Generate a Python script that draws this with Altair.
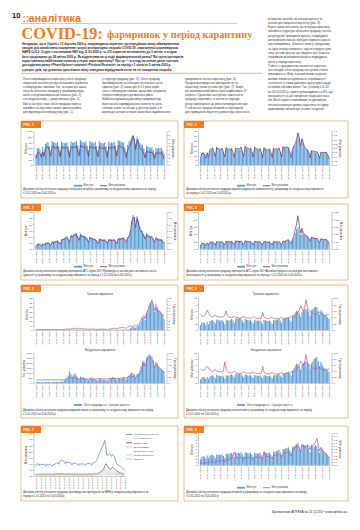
import altair as alt
import pandas as pd

W, H = 344, 514
ORANGE = "#f47b20"
FRAME = "#f3a46b"
BAR = "#5b9bd5"
PURPLE = "#7a2a5e"
PINK = "#c4508a"
INK = "#333333"
SANS = "Liberation Sans"
SERIF = "Liberation Serif"

# ---------------- categories ----------------
DATES = [d.strftime("%d.%m.%Y") for d in pd.date_range("2020-01-01", "2020-04-05", freq="D")]
XTICKS = DATES[::5]

# ---------------- data ----------------
F1_UAH = [170, 290, 310, 280, 210, 320, 230,
          370, 395, 405, 335, 255, 425, 400,
          395, 380, 410, 330, 250, 420, 390,
          385, 390, 400, 325, 245, 415, 395,
          400, 395, 425, 350, 265, 440, 410,
          405, 390, 415, 340, 255, 430, 400,
          395, 385, 405, 335, 250, 420, 390,
          390, 380, 400, 330, 245, 415, 385,
          395, 390, 410, 345, 260, 440, 420,
          410, 400, 395, 310, 235, 355, 415,
          440, 495, 525, 470, 375, 505, 455,
          395, 365, 355, 295, 225, 335, 320,
          315, 305, 310, 260, 200, 300, 290,
          300, 290, 305, 255, 195]
F1_PCK = [1.7, 3.1, 3.4, 3.0, 2.0, 3.5, 2.3,
          4.4, 4.6, 4.8, 3.6, 2.3, 5.1, 4.7,
          4.6, 4.4, 4.9, 3.5, 2.2, 5.0, 4.5,
          4.5, 4.5, 4.7, 3.4, 2.1, 4.9, 4.6,
          4.7, 4.6, 5.1, 3.7, 2.4, 5.3, 4.8,
          4.8, 4.5, 4.9, 3.6, 2.3, 5.1, 4.6,
          4.6, 4.4, 4.8, 3.5, 2.2, 4.9, 4.5,
          4.5, 4.3, 4.7, 3.4, 2.1, 4.8, 4.4,
          4.6, 4.5, 4.9, 3.7, 2.3, 5.2, 4.9,
          4.8, 4.6, 4.5, 3.2, 2.0, 3.9, 4.8,
          5.3, 6.3, 7.7, 6.4, 4.1, 6.7, 5.6,
          4.5, 4.0, 3.9, 3.0, 1.9, 3.6, 3.4,
          3.4, 3.3, 3.4, 2.7, 1.7, 3.2, 3.1,
          3.2, 3.1, 3.3, 2.6, 1.6]

F2_UAH = [7, 12, 13, 11, 8, 13, 9,
          15, 16, 17, 13, 10, 18, 17,
          16, 15.5, 17, 13, 10, 17.5, 16,
          16, 16, 16.5, 12.5, 9.5, 17, 16,
          16.5, 16, 18, 14, 10.5, 18.5, 17,
          17, 16, 17, 13.5, 10, 18, 16.5,
          16, 15.5, 16.5, 13, 9.8, 17.5, 16,
          15.5, 15, 16, 12.5, 9.5, 17, 16,
          16, 16, 17, 13.5, 10.2, 18.5, 17.5,
          18, 18, 17.5, 13, 9.5, 15, 19,
          21, 25, 31.5, 27, 19, 26, 22,
          18, 16, 15.5, 12.5, 9, 14.5, 14,
          13.5, 13, 13.5, 11, 8, 13, 12.5,
          13, 12.5, 13, 10.5, 7.5]
F2_PCK = [0.8, 1.3, 1.4, 1.2, 0.8, 1.4, 1.0,
          1.8, 1.9, 2.0, 1.5, 1.0, 2.1, 1.9,
          1.9, 1.8, 2.0, 1.5, 0.95, 2.05, 1.85,
          1.85, 1.85, 1.95, 1.45, 0.9, 2.0, 1.9,
          1.95, 1.9, 2.1, 1.6, 1.0, 2.2, 2.0,
          2.0, 1.85, 2.0, 1.55, 0.95, 2.1, 1.9,
          1.9, 1.8, 1.95, 1.5, 0.92, 2.05, 1.85,
          1.85, 1.75, 1.9, 1.45, 0.9, 2.0, 1.85,
          1.9, 1.85, 2.0, 1.55, 0.98, 2.15, 2.05,
          2.1, 2.1, 2.05, 1.5, 0.9, 1.8, 2.25,
          2.5, 3.0, 3.8, 3.2, 2.2, 3.1, 2.6,
          2.1, 1.85, 1.8, 1.45, 0.85, 1.7, 1.65,
          1.6, 1.55, 1.6, 1.3, 0.8, 1.5, 1.45,
          1.5, 1.45, 1.5, 1.2, 0.75]

F3_UAH = [0.25, 0.40, 0.45, 0.42, 0.30, 0.45, 0.35,
          0.50, 0.52, 0.55, 0.45, 0.35, 0.60, 0.58,
          0.62, 0.65, 0.70, 0.58, 0.45, 0.80, 0.82,
          0.90, 0.95, 1.05, 0.85, 0.65, 1.15, 1.10,
          1.20, 1.25, 1.30, 1.05, 0.80, 1.25, 1.15,
          1.10, 1.05, 1.00, 0.85, 0.65, 0.98, 0.92,
          0.88, 0.85, 0.84, 0.70, 0.55, 0.85, 0.82,
          0.80, 0.78, 0.80, 0.66, 0.52, 0.82, 0.80,
          0.80, 0.78, 0.82, 0.70, 0.55, 0.88, 0.86,
          0.90, 0.92, 0.95, 0.80, 0.62, 0.95, 1.10,
          1.50, 2.30, 2.75, 2.60, 1.90, 2.70, 2.30,
          1.80, 1.55, 1.45, 1.20, 0.90, 1.30, 1.20,
          1.10, 1.05, 1.05, 0.85, 0.65, 0.95, 0.90,
          0.85, 0.80, 0.82, 0.68, 0.52]
F3_PCK = [0.04, 0.07, 0.08, 0.07, 0.05, 0.08, 0.06,
          0.09, 0.09, 0.10, 0.08, 0.06, 0.11, 0.10,
          0.11, 0.12, 0.13, 0.10, 0.08, 0.14, 0.15,
          0.16, 0.17, 0.19, 0.15, 0.11, 0.21, 0.20,
          0.22, 0.23, 0.24, 0.19, 0.14, 0.23, 0.21,
          0.20, 0.19, 0.18, 0.15, 0.11, 0.18, 0.17,
          0.16, 0.15, 0.15, 0.12, 0.09, 0.15, 0.15,
          0.14, 0.14, 0.14, 0.12, 0.09, 0.15, 0.14,
          0.14, 0.14, 0.15, 0.12, 0.09, 0.16, 0.16,
          0.16, 0.17, 0.17, 0.14, 0.11, 0.17, 0.20,
          0.28, 0.43, 0.52, 0.49, 0.35, 0.50, 0.42,
          0.33, 0.28, 0.26, 0.21, 0.16, 0.23, 0.21,
          0.20, 0.19, 0.19, 0.15, 0.11, 0.17, 0.16,
          0.15, 0.14, 0.15, 0.12, 0.09]

F4_UAH = [0.25, 0.38, 0.40, 0.36, 0.28, 0.42, 0.32,
          0.45, 0.47, 0.48, 0.40, 0.30, 0.50, 0.48,
          0.48, 0.47, 0.50, 0.41, 0.31, 0.52, 0.50,
          0.50, 0.49, 0.52, 0.42, 0.32, 0.55, 0.52,
          0.52, 0.51, 0.54, 0.44, 0.33, 0.56, 0.53,
          0.51, 0.49, 0.51, 0.42, 0.32, 0.53, 0.50,
          0.49, 0.48, 0.50, 0.41, 0.31, 0.52, 0.49,
          0.48, 0.47, 0.49, 0.40, 0.30, 0.51, 0.49,
          0.49, 0.48, 0.51, 0.42, 0.32, 0.54, 0.52,
          0.55, 0.58, 0.60, 0.48, 0.36, 0.60, 0.75,
          1.05, 1.35, 1.50, 1.30, 0.95, 1.25, 1.00,
          0.95, 0.90, 0.88, 0.72, 0.55, 0.80, 0.78,
          0.75, 0.72, 0.74, 0.60, 0.45, 0.70, 0.68,
          0.66, 0.64, 0.66, 0.54, 0.40]
F4_PCK = [0.020, 0.035, 0.040, 0.035, 0.025, 0.040, 0.030,
          0.045, 0.046, 0.048, 0.038, 0.027, 0.050, 0.047,
          0.047, 0.046, 0.050, 0.039, 0.028, 0.052, 0.049,
          0.049, 0.048, 0.051, 0.040, 0.029, 0.054, 0.051,
          0.051, 0.050, 0.053, 0.042, 0.030, 0.055, 0.052,
          0.050, 0.048, 0.050, 0.040, 0.029, 0.052, 0.049,
          0.048, 0.047, 0.049, 0.039, 0.028, 0.051, 0.048,
          0.047, 0.046, 0.048, 0.038, 0.027, 0.050, 0.048,
          0.048, 0.047, 0.050, 0.040, 0.029, 0.053, 0.051,
          0.055, 0.060, 0.063, 0.050, 0.036, 0.065, 0.090,
          0.130, 0.170, 0.225, 0.160, 0.110, 0.140, 0.110,
          0.095, 0.090, 0.087, 0.070, 0.052, 0.080, 0.077,
          0.073, 0.070, 0.072, 0.058, 0.043, 0.068, 0.066,
          0.064, 0.062, 0.064, 0.052, 0.038]

F5_UAH = [0.05, 0.06, 0.06, 0.06, 0.05, 0.06, 0.05,
          0.06, 0.06, 0.07, 0.06, 0.05, 0.07, 0.06,
          0.07, 0.06, 0.07, 0.06, 0.05, 0.07, 0.07,
          0.10, 0.15, 0.20, 0.22, 0.25, 0.30, 0.35,
          0.40, 0.42, 0.38, 0.30, 0.22, 0.30, 0.28,
          0.25, 0.24, 0.22, 0.18, 0.14, 0.20, 0.20,
          0.18, 0.17, 0.17, 0.14, 0.11, 0.17, 0.17,
          0.16, 0.15, 0.16, 0.13, 0.10, 0.18, 0.20,
          0.25, 0.30, 0.32, 0.28, 0.20, 0.33, 0.35,
          0.40, 0.45, 0.50, 0.45, 0.35, 0.60, 0.90,
          2.0, 2.8, 3.5, 3.0, 2.2, 3.8, 4.5,
          6.0, 9.0, 13.0, 14.0, 11.0, 18.0, 22.0,
          26.0, 30.0, 33.0, 28.0, 20.0, 29.0, 25.0,
          22.0, 21.0, 19.0, 16.0, 12.0]
F5_PCK = [0.10, 0.15, 0.15, 0.15, 0.10, 0.15, 0.10,
          0.15, 0.15, 0.15, 0.15, 0.10, 0.15, 0.15,
          0.15, 0.15, 0.15, 0.15, 0.10, 0.15, 0.15,
          0.20, 0.25, 0.30, 0.30, 0.20, 0.40, 0.45,
          0.50, 0.55, 0.50, 0.40, 0.30, 0.45, 0.40,
          0.35, 0.35, 0.30, 0.25, 0.20, 0.30, 0.30,
          0.30, 0.25, 0.25, 0.20, 0.15, 0.25, 0.25,
          0.25, 0.25, 0.25, 0.20, 0.15, 0.30, 0.35,
          0.40, 0.50, 0.55, 0.50, 0.35, 0.60, 0.65,
          0.70, 0.75, 0.80, 0.70, 0.50, 0.90, 1.10,
          1.30, 1.00, 1.20, 1.50, 1.10, 1.40, 1.60,
          2.20, 3.00, 4.20, 4.50, 3.60, 5.50, 6.20,
          7.50, 8.50, 9.00, 8.00, 6.00, 7.00, 6.00,
          5.80, 5.50, 5.20, 4.80, 4.50]

F5N_PCK = [60, 90, 90, 90, 60, 90, 60,
           90, 90, 120, 90, 60, 120, 90,
           120, 120, 120, 90, 90, 150, 150,
           240, 360, 540, 750, 1140, 900, 660,
           840, 960, 750, 540, 360, 660, 540,
           600, 480, 420, 360, 270, 450, 540,
           420, 390, 360, 300, 240, 450, 420,
           360, 330, 360, 300, 210, 390, 420,
           480, 600, 540, 450, 300, 510, 450,
           420, 450, 540, 480, 330, 600, 750,
           900, 1050, 960, 840, 600, 900, 960,
           1200, 1650, 2100, 2250, 1860, 2550, 2700,
           2850, 2760, 2640, 2250, 1650, 2100, 1950,
           1650, 1500, 1350, 1260, 1140]
F5N_AVG = [10, 10, 11, 10, 10, 11, 10,
           10, 11, 11, 10, 10, 11, 11,
           11, 10, 11, 11, 10, 11, 11,
           11, 12, 14, 16, 20, 18, 15,
           17, 18, 16, 14, 12, 15, 14,
           14, 13, 14, 13, 13, 14, 15,
           14, 13, 14, 13, 14, 15, 14,
           14, 13, 14, 14, 13, 15, 15,
           15, 16, 15, 15, 14, 16, 15,
           16, 17, 18, 17, 16, 20, 22,
           18, 20, 22, 21, 18, 22, 24,
           30, 42, 55, 65, 58, 75, 82,
           85, 83, 78, 68, 52, 62, 58,
           52, 48, 44, 40, 36]

F6_UAH = [1.5, 2.2, 2.5, 2.2, 1.6, 2.5, 1.8,
          2.8, 3.0, 3.2, 2.6, 2.0, 3.3, 3.1,
          3.0, 2.9, 3.1, 2.6, 1.9, 3.2, 3.0,
          3.0, 3.1, 3.4, 3.0, 2.2, 3.6, 3.5,
          3.6, 3.8, 3.6, 3.0, 2.3, 3.4, 3.2,
          3.1, 3.0, 3.1, 2.6, 2.0, 3.2, 3.0,
          3.0, 2.9, 3.0, 2.5, 1.9, 3.1, 3.0,
          2.9, 2.8, 3.0, 2.5, 1.9, 3.1, 3.0,
          3.1, 3.3, 3.4, 2.9, 2.2, 3.6, 3.5,
          3.7, 3.9, 4.0, 3.3, 2.6, 4.2, 4.8,
          5.5, 6.0, 5.8, 5.2, 4.2, 5.6, 6.2,
          6.5, 6.6, 6.4, 5.8, 4.5, 6.2, 6.5,
          7.0, 7.2, 7.1, 6.0, 4.8, 6.2, 5.8,
          5.0, 4.6, 4.4, 4.0, 3.5]
F6_AVG = [48, 45, 42, 44, 50, 62, 55,
          45, 42, 41, 43, 47, 42, 41,
          40, 41, 40, 42, 46, 60, 45,
          41, 40, 39, 40, 44, 40, 39,
          38, 37, 38, 40, 43, 39, 38,
          37, 38, 37, 39, 42, 38, 37,
          36, 37, 37, 38, 55, 40, 37,
          36, 35, 36, 38, 41, 36, 35,
          35, 36, 35, 37, 40, 35, 36,
          36, 37, 36, 38, 42, 45, 40,
          42, 48, 55, 62, 75, 68, 60,
          72, 95, 70, 62, 58, 55, 52,
          50, 48, 50, 52, 56, 50, 47,
          45, 44, 46, 48, 50]
F6N_PCK = [1.2, 1.8, 2.0, 1.8, 1.3, 2.0, 1.4,
           2.2, 2.4, 2.6, 2.1, 1.6, 2.7, 2.5,
           2.4, 2.3, 2.5, 2.1, 1.5, 2.6, 2.4,
           2.5, 2.6, 2.9, 2.6, 1.9, 3.1, 3.0,
           3.1, 3.3, 3.1, 2.5, 1.9, 2.9, 2.7,
           2.6, 2.5, 2.6, 2.2, 1.7, 2.7, 2.5,
           2.5, 2.4, 2.5, 2.1, 1.6, 2.6, 2.5,
           2.4, 2.3, 2.5, 2.1, 1.6, 2.6, 2.5,
           2.6, 2.8, 3.0, 2.5, 1.9, 3.2, 3.1,
           3.4, 3.6, 3.8, 3.1, 2.4, 4.0, 4.8,
           5.8, 6.4, 6.2, 5.5, 4.5, 6.0, 6.6,
           7.0, 7.2, 7.0, 6.2, 4.8, 6.6, 7.2,
           8.0, 8.5, 8.6, 7.2, 5.5, 7.0, 6.2,
           5.2, 4.8, 4.5, 4.2, 3.8]
F6N_AVG = [46, 44, 42, 43, 50, 56, 50,
           42, 40, 39, 41, 45, 40, 39,
           38, 37, 38, 40, 70, 45, 38,
           36, 35, 34, 36, 40, 35, 34,
           33, 32, 33, 35, 38, 34, 33,
           32, 33, 32, 34, 37, 33, 32,
           31, 32, 32, 33, 55, 36, 32,
           31, 30, 31, 33, 36, 31, 30,
           30, 31, 30, 32, 35, 30, 31,
           31, 32, 31, 33, 37, 40, 36,
           40, 46, 52, 60, 72, 65, 58,
           70, 95, 68, 60, 55, 52, 50,
           48, 46, 48, 50, 54, 48, 45,
           44, 43, 45, 46, 48]

F7_A = [0.80, 0.95, 1.00, 0.98, 0.85, 1.00, 0.90,
        0.95, 0.92, 0.98, 0.90, 0.80, 0.96, 0.94,
        0.92, 0.90, 0.95, 0.88, 0.78, 0.95, 0.93,
        0.98, 1.02, 1.10, 1.05, 0.95, 1.20, 1.25,
        1.28, 1.25, 1.22, 1.10, 0.98, 1.15, 1.12,
        1.10, 1.08, 1.10, 1.00, 0.90, 1.05, 1.04,
        1.02, 1.00, 1.02, 0.95, 0.85, 1.00, 0.98,
        0.97, 0.96, 1.00, 0.93, 0.84, 1.00, 0.99,
        1.00, 1.02, 1.05, 0.97, 0.88, 1.05, 1.08,
        1.10, 1.15, 1.25, 1.40, 1.60, 1.75, 1.95,
        2.10, 2.30, 2.50, 2.70, 2.90, 2.40, 1.70,
        1.65, 1.75, 1.80, 1.70, 1.60, 1.75, 1.70,
        1.60, 1.40, 1.15, 1.00, 0.90, 0.85, 0.80,
        0.75, 0.70, 0.62, 0.58, 0.55]
F7_B = [0.12, 0.14, 0.15, 0.14, 0.12, 0.15, 0.13,
        0.15, 0.15, 0.16, 0.14, 0.12, 0.16, 0.15,
        0.15, 0.14, 0.16, 0.14, 0.12, 0.16, 0.16,
        0.16, 0.17, 0.18, 0.17, 0.15, 0.19, 0.19,
        0.19, 0.19, 0.18, 0.16, 0.14, 0.17, 0.16,
        0.16, 0.16, 0.16, 0.15, 0.13, 0.16, 0.15,
        0.15, 0.15, 0.15, 0.14, 0.12, 0.15, 0.15,
        0.15, 0.14, 0.15, 0.14, 0.12, 0.15, 0.15,
        0.15, 0.15, 0.16, 0.15, 0.13, 0.16, 0.16,
        0.16, 0.17, 0.18, 0.20, 0.24, 0.28, 0.32,
        0.36, 0.42, 0.50, 0.62, 0.80, 1.00, 0.95,
        0.80, 0.65, 0.55, 0.50, 0.60, 0.70, 0.62,
        0.55, 0.50, 0.45, 0.40, 0.35, 0.30, 0.28,
        0.25, 0.22, 0.20, 0.18, 0.16]
F7_C = [0.08, 0.09, 0.10, 0.09, 0.08, 0.10, 0.09,
        0.10, 0.10, 0.10, 0.09, 0.08, 0.10, 0.10,
        0.10, 0.09, 0.10, 0.09, 0.08, 0.10, 0.10,
        0.10, 0.11, 0.12, 0.11, 0.10, 0.12, 0.12,
        0.12, 0.12, 0.12, 0.11, 0.10, 0.11, 0.11,
        0.11, 0.11, 0.11, 0.10, 0.09, 0.11, 0.10,
        0.10, 0.10, 0.10, 0.09, 0.08, 0.10, 0.10,
        0.10, 0.10, 0.10, 0.09, 0.08, 0.10, 0.10,
        0.10, 0.10, 0.11, 0.10, 0.09, 0.11, 0.11,
        0.12, 0.13, 0.14, 0.16, 0.18, 0.22, 0.26,
        0.30, 0.36, 0.42, 0.48, 0.55, 0.50, 0.45,
        0.40, 0.38, 0.35, 0.33, 0.36, 0.40, 0.38,
        0.35, 0.32, 0.28, 0.25, 0.22, 0.20, 0.18,
        0.16, 0.15, 0.14, 0.13, 0.12]
F7_D = [0.12, 0.15, 0.16, 0.15, 0.12, 0.16, 0.14,
        0.16, 0.16, 0.17, 0.15, 0.13, 0.17, 0.16,
        0.16, 0.16, 0.17, 0.15, 0.13, 0.17, 0.17,
        0.17, 0.17, 0.18, 0.17, 0.15, 0.18, 0.18,
        0.18, 0.18, 0.18, 0.16, 0.14, 0.17, 0.17,
        0.17, 0.16, 0.17, 0.15, 0.13, 0.16, 0.16,
        0.16, 0.16, 0.16, 0.15, 0.13, 0.16, 0.16,
        0.16, 0.15, 0.16, 0.15, 0.13, 0.16, 0.16,
        0.16, 0.16, 0.17, 0.16, 0.14, 0.17, 0.17,
        0.17, 0.18, 0.19, 0.20, 0.21, 0.23, 0.25,
        0.28, 0.30, 0.33, 0.35, 0.36, 0.33, 0.30,
        0.28, 0.27, 0.28, 0.27, 0.25, 0.27, 0.26,
        0.25, 0.23, 0.22, 0.20, 0.19, 0.18, 0.17,
        0.16, 0.15, 0.15, 0.14, 0.13]
F7_E = [0.06, 0.07, 0.08, 0.07, 0.06, 0.08, 0.07,
        0.08, 0.08, 0.08, 0.07, 0.06, 0.08, 0.08,
        0.08, 0.08, 0.08, 0.07, 0.06, 0.08, 0.08,
        0.08, 0.08, 0.09, 0.08, 0.07, 0.09, 0.09,
        0.09, 0.09, 0.09, 0.08, 0.07, 0.08, 0.08,
        0.08, 0.08, 0.08, 0.07, 0.06, 0.08, 0.08,
        0.08, 0.08, 0.08, 0.07, 0.06, 0.08, 0.08,
        0.08, 0.07, 0.08, 0.07, 0.06, 0.08, 0.08,
        0.08, 0.08, 0.08, 0.08, 0.07, 0.08, 0.08,
        0.08, 0.09, 0.09, 0.10, 0.10, 0.11, 0.12,
        0.13, 0.14, 0.15, 0.16, 0.17, 0.16, 0.14,
        0.13, 0.13, 0.13, 0.12, 0.12, 0.13, 0.12,
        0.12, 0.11, 0.10, 0.10, 0.09, 0.09, 0.08,
        0.08, 0.08, 0.07, 0.07, 0.07]
F7_NAMES = ["Інтерферони (L03AB), у т.ч. комбінації",
            "Умифеновір",
            "Осельтамівір, порівняльні дані",
            "Інозин пранобекс",
            "Тилорон"]
F7_COLORS = ["#4a7fc0", "#8e3a6e", "#f2c45a", "#9fd3d8", "#b7b7b7"]

F8_UAH = [1.8, 2.5, 2.8, 2.6, 2.0, 3.0, 2.2,
          3.0, 3.1, 3.2, 2.7, 2.1, 3.3, 3.1,
          3.2, 3.1, 3.3, 2.8, 2.2, 3.5, 3.4,
          3.5, 3.6, 3.8, 3.2, 2.5, 3.9, 3.7,
          3.8, 3.7, 4.0, 3.3, 2.6, 4.0, 3.8,
          3.7, 3.6, 3.8, 3.2, 2.5, 3.9, 3.7,
          3.6, 3.6, 3.8, 3.1, 2.4, 4.0, 3.8,
          3.8, 3.7, 3.9, 3.3, 2.6, 4.2, 4.1,
          4.4, 4.5, 4.8, 4.0, 3.1, 5.0, 4.9,
          5.2, 5.4, 5.5, 4.6, 3.6, 5.6, 5.8,
          6.2, 6.5, 6.8, 5.8, 4.5, 6.6, 6.4,
          6.2, 6.0, 6.3, 5.2, 4.0, 6.0, 5.8,
          5.8, 6.2, 6.0, 5.0, 3.8, 5.5, 5.0,
          4.2, 3.8, 3.6, 3.0, 2.5]
F8_PCK = [0.04, 0.06, 0.07, 0.06, 0.05, 0.08, 0.06,
          0.09, 0.10, 0.11, 0.09, 0.07, 0.12, 0.11,
          0.12, 0.13, 0.14, 0.12, 0.09, 0.16, 0.15,
          0.17, 0.18, 0.22, 0.30, 0.40, 0.28, 0.20,
          0.21, 0.22, 0.24, 0.20, 0.16, 0.25, 0.23,
          0.23, 0.22, 0.24, 0.20, 0.16, 0.26, 0.24,
          0.25, 0.24, 0.26, 0.22, 0.18, 0.42, 0.28,
          0.27, 0.26, 0.28, 0.24, 0.19, 0.30, 0.29,
          0.31, 0.32, 0.34, 0.29, 0.23, 0.36, 0.36,
          0.38, 0.40, 0.41, 0.35, 0.28, 0.45, 0.50,
          0.55, 0.58, 0.60, 0.52, 0.42, 0.62, 0.58,
          0.55, 0.58, 0.62, 0.60, 0.48, 0.62, 0.60,
          0.65, 0.72, 0.84, 0.62, 0.45, 0.55, 0.50,
          0.42, 0.38, 0.34, 0.28, 0.22]

# ---------------- texts ----------------
INTRO = [
    "Нагадаємо, що в Україні з 12 березня 2020 р. запроваджено карантин, що передбачає низку обмежувальних",
    "заходів для запобігання поширенню гострої респіраторної хвороби COVID-19, спричиненої коронавірусом",
    "SARS-CoV-2. Згідно з постановою КМУ від 11.03.2020 р. № 211 карантин встановлено до 3 квітня, а згодом",
    "його продовжено до 24 квітня 2020 р. Як відреагував на ці події фармацевтичний ринок? Які групи препаратів",
    "користувалися найбільшим попитом у перші тижні карантину? Про це — в огляді на основі даних системи",
    "дослідження ринку «PharmXplorer» компанії «Proxima Research» за період з 1 січня по 5 квітня 2020 р.",
    "у розрізі днів, що дозволяє простежити зміну поведінки відвідувачів аптек на тлі поширення хвороби.",
]
COL_A = [
    "Після запровадження карантину обсяг продажу",
    "лікарських засобів суттєво збільшився порівняно",
    "з попередніми тижнями. Так, за перші дні каран-",
    "тину пік аптечного продажу у грошовому вира-",
    "женні сягнув максимальних значень (рис. 1),",
    "а в натуральному — дещо менших (рис. 2).",
    "Вже у наступні тижні обсяг продажу помітно",
    "знизився та опустився нижче звичного рівня",
    "для відповідного періоду року (рис. 1).",
]
COL_B = [
    "у структурі продажу (рис. 3). Обсяг продажу",
    "протимікробних засобів для системного засто-",
    "сування (рис. 4) також зріс в 1,5 раза порів-",
    "няно з попереднім тижнем, однак вже наприкінці",
    "березня повернувся до звичного рівня.",
    "Найбільш вражаючу динаміку продемонстру-",
    "вали засоби індивідуального захисту та анти-",
    "септики, попит на які зріс у десятки разів, а в",
    "окремі дні аптеки не мали змоги його задовольнити.",
]
COL_C = [
    "призупинено на час карантину (рис. 6).",
    "Продаж противірусних препаратів на тлі",
    "карантину також суттєво зріс (рис. 7). Зокре-",
    "ма, максимальний рівень було зафіксовано 17",
    "березня. Однак вже наступного тижня обсяг",
    "продажу скоротився, а частка в структурі",
    "ринку повернулася до рівня попередніх місяців.",
    "У той же час продаж вітамінів та препаратів",
    "для підвищення імунітету демонструє зростання.",
]
COL_D = [
    "вітамінних засобів, які позиціонуються як",
    "засоби для зміцнення імунітету (рис. 8).",
    "",
    "Варто також зазначити, що в період карантину",
    "змінилася структура аптечного продажу: частка",
    "рецептурних препаратів зросла, а відвідувачі",
    "аптек робили запаси ліків для лікування хроніч-",
    "них захворювань. Кількість чеків у середньому",
    "на одну аптеку знизилася, тоді як середня сума",
    "чека суттєво зросла, що свідчить про бажання",
    "споживачів мінімізувати кількість відвідувань",
    "аптек у період карантину.",
    "У квітні, з урахуванням посилення карантин-",
    "них заходів, обсяг продажу поступово стабілі-",
    "зуватиметься. Втім, значний вплив на ринок",
    "матиме зниження купівельної спроможності",
    "населення, а також динаміка курсу гривні щодо",
    "основних світових валют. Так, у період з 11.03",
    "по 31.03.2020 р. гривня девальвувала на 8%, що",
    "позначиться на ціні імпортних лікарських засо-",
    "бів. Ми й надалі стежитимемо за динамікою",
    "аптечного ринку в умовах карантину та інфор-",
    "муватимемо читачів про основні тенденції.",
]
CAPTIONS = {
    1: ["Динаміка обсягу аптечного продажу лікарських засобів у грошовому та натуральному вираженні за період",
        "з 1.01.2020 по 5.04.2020 р."],
    2: ["Динаміка обсягу аптечного продажу виробів медичного призначення у грошовому та натуральному вираженні",
        "за період з 1.01.2020 по 5.04.2020 р."],
    3: ["Динаміка обсягу аптечного продажу препаратів АТС-групи J05 «Противірусні засоби для системного засто-",
        "сування» у грошовому та натуральному вираженні за період з 1.01.2020 по 5.04.2020 р."],
    4: ["Динаміка обсягу аптечного продажу препаратів АТС-групи J01 «Антибактеріальні засоби для системного",
        "застосування» у грошовому та натуральному вираженні за період з 1.01.2020 по 5.04.2020 р."],
    5: ["Динаміка обсягу аптечного продажу медичних масок у грошовому та натуральному вираженні за період",
        "з 1.01.2020 по 5.04.2020 р."],
    6: ["Динаміка обсягу аптечного продажу антисептиків у грошовому та натуральному вираженні за період",
        "з 1.01.2020 по 5.04.2020 р."],
    7: ["Динаміка обсягу аптечного продажу противірусних препаратів за МНН у натуральному вираженні за",
        "період з 1.01.2020 по 5.04.2020 р."],
    8: ["Динаміка обсягу аптечного продажу вітамінів у грошовому та натуральному вираженні за період",
        "з 1.01.2020 по 5.04.2020 р."],
}

# ---------------- helpers ----------------
one = pd.DataFrame({"k": [0]})


def box(x0, y0, x1, y1, fill="white", stroke=None, sw=0.7):
    kw = {"fill": fill}
    if stroke:
        kw.update(stroke=stroke, strokeWidth=sw)
    return alt.Chart(one).mark_rect(**kw).encode(
        x=alt.value(x0), x2=alt.value(x1), y=alt.value(y0), y2=alt.value(y1))


def rule(x0, x1, y, color, sw=0.5):
    return alt.Chart(one).mark_rule(color=color, strokeWidth=sw).encode(
        x=alt.value(x0), x2=alt.value(x1), y=alt.value(y))


def text(x, y, t, size=3.2, color=INK, weight="normal", align="left", font=SANS,
         lh=None, baseline="middle", angle=None):
    kw = dict(text=t, fontSize=size, color=color, fontWeight=weight, align=align,
              font=font, baseline=baseline)
    if lh:
        kw["lineHeight"] = lh
    if angle is not None:
        kw["angle"] = angle
    return alt.Chart(one).mark_text(**kw).encode(x=alt.value(x), y=alt.value(y))


AX = dict(labelFontSize=2.5, labelColor=INK, labelFont=SANS, titleFont=SANS,
          titleFontSize=2.8, titleColor=INK, titleFontWeight="normal",
          tickSize=1, tickWidth=0.4, domainWidth=0.4, domainColor="#808080",
          tickColor="#808080", labelPadding=0.6, minExtent=0, maxExtent=40,
          grid=False, labelOverlap=False, zindex=2)


def xaxis(ybot, size=2.5):
    ax = dict(AX)
    ax["labelFontSize"] = size
    return alt.Axis(orient="bottom", offset=ybot - H, values=XTICKS, labelAngle=270,
                    title=None, **ax)


def combo(bars, line, x0, x1, ytop, ybot, axl, axr, ydom, yvals, ytitle,
          rdom, rvals, rtitle, lcolor):
    df = pd.DataFrame({"d": DATES, "b": bars, "l": line})
    b = alt.Chart(df).mark_bar(color=BAR).encode(
        x=alt.X("d:O", sort=None,
                scale=alt.Scale(range=[x0, x1], paddingInner=0.22, paddingOuter=0.3),
                axis=xaxis(ybot)),
        y=alt.Y("b:Q", scale=alt.Scale(domain=ydom, range=[ybot, ytop], nice=False),
                axis=alt.Axis(orient="left", offset=-axl, values=yvals, title=ytitle,
                              titlePadding=1, **AX)))
    l = alt.Chart(df).mark_line(color=lcolor, strokeWidth=0.7).encode(
        x=alt.X("d:O", sort=None),
        y=alt.Y("l:Q", scale=alt.Scale(domain=rdom, range=[ybot, ytop], nice=False),
                axis=alt.Axis(orient="right", offset=axr - W, values=rvals, title=rtitle,
                              titlePadding=1, **AX)))
    return alt.layer(b, l).resolve_scale(y="independent")


def frame(x0, y0, x1, y1, n):
    return [box(x0, y0, x1, y1, fill="white", stroke=FRAME, sw=0.8),
            box(x0, y0, x0 + 20, y0 + 7, fill=ORANGE),
            text(x0 + 2.5, y0 + 3.7, f"РИС. {n}", size=3.2, color="white", weight="bold")]


def legend(x, y, a, b, lcolor):
    return [box(x, y - 0.9, x + 8, y + 0.9, fill=BAR),
            text(x + 9.5, y, a, size=2.6),
            rule(x + 26, x + 33, y, lcolor, 0.8),
            text(x + 34.5, y, b, size=2.6)]


def caption(x, y, n):
    return text(x, y, CAPTIONS[n], size=2.7, lh=4.4, baseline="top", color="#222")


def steps(lo, hi, st):
    out, v = [], lo
    while v <= hi + 1e-9:
        out.append(round(v, 4))
        v += st
    return out


deco, charts = [], []

# ---------------- header ----------------
deco += [
    text(4, 9.8, "10", size=7.5, color="#111", weight="bold", baseline="alphabetic"),
    text(14.5, 13.5, "::", size=10, color=ORANGE, weight="bold", baseline="alphabetic"),
    text(20.5, 13.5, "аналітика", size=11, color=ORANGE, weight="bold", baseline="alphabetic"),
    rule(13, 229, 15.5, "#9a9a9a", 0.5),
    text(13.5, 30.6, "COVID-19:", size=16.3, color=ORANGE, weight="bold", font=SERIF,
         baseline="alphabetic"),
    text(99, 30.0, "фармринок у період карантину", size=10.3, color=ORANGE, weight="bold",
         font=SERIF, baseline="alphabetic"),
    text(14, 34.8, INTRO, size=2.95, weight="bold", lh=4.33, baseline="top", color="#222"),
    rule(13, 254, 65.3, ORANGE, 0.6),
    text(15, 69.9, COL_A, size=2.85, lh=4.12, baseline="top"),
    text(94, 69.9, COL_B, size=2.85, lh=4.12, baseline="top"),
    text(177, 69.9, COL_C, size=2.85, lh=4.12, baseline="top"),
    text(260, 9.6, COL_D, size=2.85, lh=4.3, baseline="top"),
]

# ---------------- figure frames ----------------
L0, L1, R0, R1 = 13, 170, 176, 340
for n, (x0, y0, x1, y1) in {1: (L0, 113, L1, 190), 2: (R0, 113, R1, 190),
                            3: (L0, 196, L1, 272), 4: (R0, 196, R1, 272),
                            5: (L0, 277, L1, 410), 6: (R0, 277, R1, 410),
                            7: (L0, 418, L1, 493), 8: (R0, 418, R1, 493)}.items():
    deco += frame(x0, y0, x1, y1, n)

# fig 1
charts.append(combo(F1_UAH, F1_PCK, 27, 157, 123, 157, 25.5, 158.5,
                    [0, 600], steps(0, 600, 100), "Млн грн",
                    [0, 9], steps(0, 9, 1), "Млн упаковок", PURPLE))
deco += legend(66, 177.7, "Млн грн", "Млн упаковок", PURPLE)
deco += [caption(L0 + 2, 180, 1)]
# fig 2
charts.append(combo(F2_UAH, F2_PCK, 191.5, 322, 123, 157, 190, 323.5,
                    [0, 35], steps(0, 35, 5), "Млн грн",
                    [0, 4], steps(0, 4, 0.5), "Млн упаковок", PURPLE))
deco += legend(229, 177.7, "Млн грн", "Млн упаковок", PURPLE)
deco += [caption(R0 + 2, 180, 2)]
# fig 3
charts.append(combo(F3_UAH, F3_PCK, 27, 157, 204, 241, 25.5, 158.5,
                    [0, 3], steps(0, 3, 0.5), "Млн грн",
                    [0, 0.6], steps(0, 0.6, 0.1), "Млн упаковок", PURPLE))
deco += legend(66, 258.7, "Млн грн", "Млн упаковок", PURPLE)
deco += [caption(L0 + 2, 261.9, 3)]
# fig 4
charts.append(combo(F4_UAH, F4_PCK, 191.5, 322, 204, 241, 190, 323.5,
                    [0, 2.5], steps(0, 2.5, 0.5), "Млн грн",
                    [0, 0.25], steps(0, 0.25, 0.05), "Млн упаковок", PURPLE))
deco += legend(229, 258.7, "Млн грн", "Млн упаковок", PURPLE)
deco += [caption(R0 + 2, 261.9, 4)]
# fig 5
deco += [text(92, 286, "Грошове вираження", size=2.8, align="center"),
         text(92, 342, "Натуральне вираження", size=2.8, align="center")]
charts.append(combo(F5_UAH, F5_PCK, 27, 157, 290, 322, 25.5, 158.5,
                    [0, 35], steps(0, 35, 5), "Млн грн",
                    [0, 10], steps(0, 10, 1), "Грн за упаковку", PINK))
charts.append(combo(F5N_PCK, F5N_AVG, 27, 157, 345, 375, 25.5, 158.5,
                    [0, 3000], steps(0, 3000, 500), "Тис. упаковок",
                    [0, 100], steps(0, 100, 20), "Грн за упаковку", PINK))
deco += legend(66, 397, "Обсяг продажу", "Середня вартість", PINK)
deco += [caption(L0 + 2, 401, 5)]
# fig 6
deco += [text(258, 286, "Грошове вираження", size=2.8, align="center"),
         text(258, 342, "Натуральне вираження", size=2.8, align="center")]
charts.append(combo(F6_UAH, F6_AVG, 191.5, 322, 290, 322, 190, 323.5,
                    [0, 10], steps(0, 10, 2), "Млн грн",
                    [0, 100], steps(0, 100, 20), "Грн за упаковку", PINK))
charts.append(combo(F6N_PCK, F6N_AVG, 191.5, 322, 345, 375, 190, 323.5,
                    [0, 10], steps(0, 10, 2), "Млн упаковок",
                    [0, 100], steps(0, 100, 20), "Грн за упаковку", PINK))
deco += legend(229, 397, "Обсяг продажу", "Середня вартість", PINK)
deco += [caption(R0 + 2, 401, 6)]
# fig 7
f7 = pd.DataFrame({
    "d": DATES * 5,
    "s": sum([[nm] * len(DATES) for nm in F7_NAMES], []),
    "v": F7_A + F7_B + F7_C + F7_D + F7_E,
})
charts.append(alt.Chart(f7).mark_line(strokeWidth=0.7).encode(
    x=alt.X("d:O", sort=None,
            scale=alt.Scale(range=[27, 117], paddingInner=0.2, paddingOuter=0.3),
            axis=xaxis(468, 2.2)),
    y=alt.Y("v:Q", scale=alt.Scale(domain=[0, 3.5], range=[468, 425], nice=False),
            axis=alt.Axis(orient="left", offset=-25.5, values=steps(0, 3.5, 0.5),
                          title="Млн упаковок", titlePadding=1, **AX)),
    color=alt.Color("s:N", sort=None, legend=None,
                    scale=alt.Scale(domain=F7_NAMES, range=F7_COLORS)),
))
leg_y = [426.5, 434.8, 439.0, 447.0, 451.0]
for nm, col, yy in zip(F7_NAMES, F7_COLORS, leg_y):
    deco += [rule(118, 124, yy, col, 0.8), text(125.5, yy, nm.split(", ")[0], size=2.5)]
deco += [text(125.5, 430.5, "у т.ч. комбінації", size=2.5),
         text(125.5, 443.0, "(порівняльні дані)", size=2.5)]
deco += [caption(L0 + 2, 482.7, 7)]
# fig 8
charts.append(combo(F8_UAH, F8_PCK, 191.5, 322, 425, 457, 190, 323.5,
                    [0, 10], steps(0, 10, 1), "Млн грн",
                    [0, 1], steps(0, 1, 0.1), "Млн упаковок", PINK))
deco += legend(229, 479.7, "Млн грн", "Млн упаковок", PINK)
deco += [caption(R0 + 2, 483.1, 8)]

# footer
deco += [text(339, 503.5, "Щотижневик АПТЕКА № 14 (1235) • www.apteka.ua", size=3.2,
              align="right", color="#222")]

chart = alt.layer(*deco, *charts).resolve_scale(x="independent", y="independent").properties(
    width=W, height=H, padding=0, background="white",
    autosize=alt.AutoSizeParams(type="none"),
).configure_view(stroke=None)

chart.save("out.html", embed_options={"renderer": "svg", "actions": False})
